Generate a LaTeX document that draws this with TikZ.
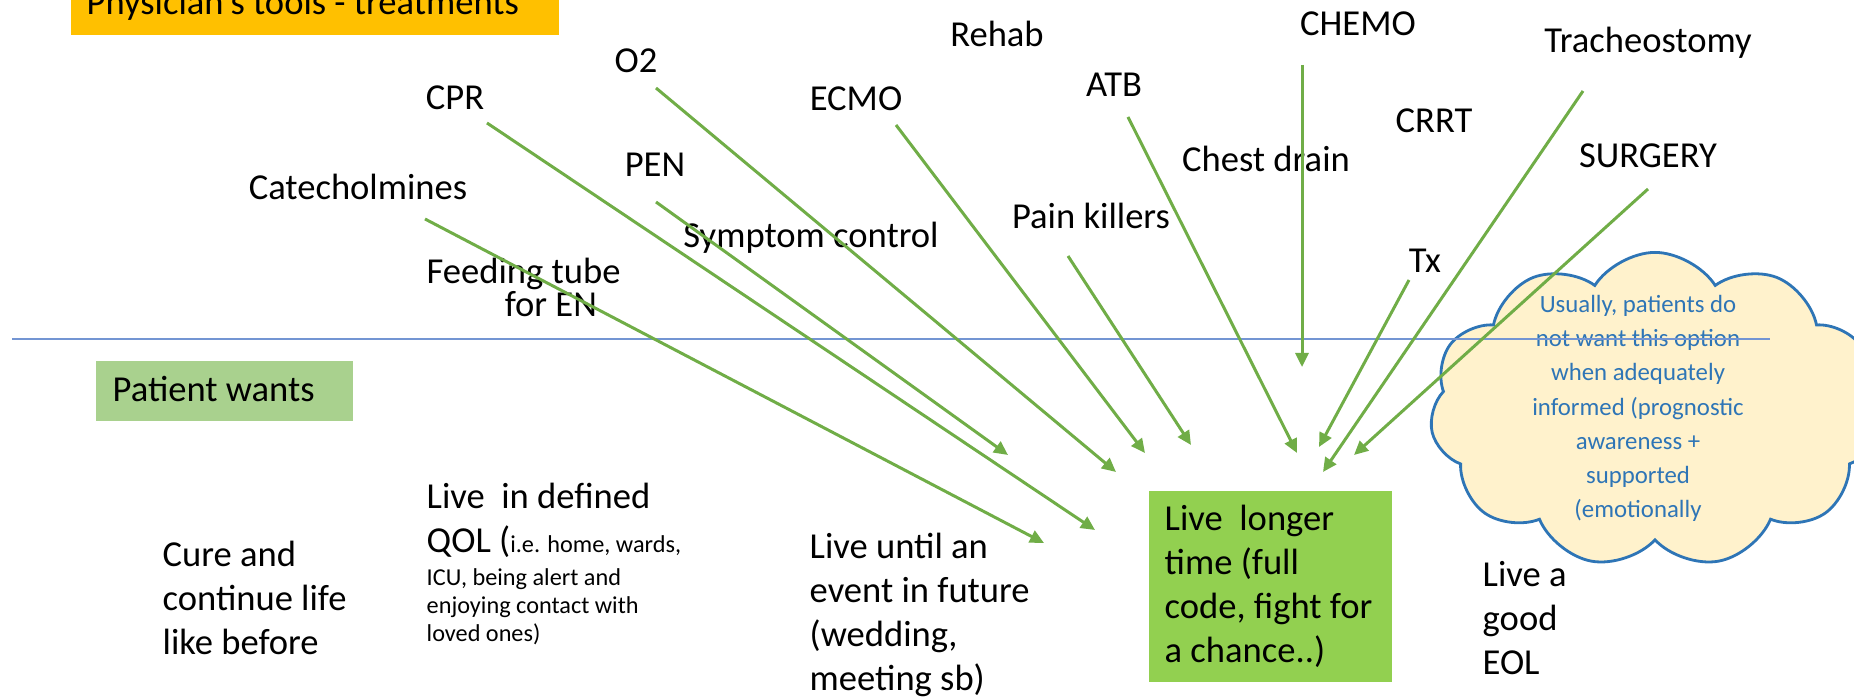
\documentclass[tikz,border=0pt]{standalone}
\usepackage{fontspec}
\setmainfont{Carlito}
\usetikzlibrary{arrows.meta,shapes.symbols,positioning}
\definecolor{colorTitle}{HTML}{FFC000}
\definecolor{colorWants}{HTML}{A9D18E}
\definecolor{colorLonger}{HTML}{92D050}
\definecolor{colorArrow}{HTML}{70AD47}
\definecolor{colorAxis}{HTML}{4472C4}
\definecolor{colorCloud}{HTML}{FFF2CC}
\definecolor{colorCloudLine}{HTML}{2E75B6}
\newcommand{\txtbig}{\fontsize{10.4}{12.6}\selectfont}
\newcommand{\txttight}{\fontsize{10.4}{9.6}\selectfont}
\newcommand{\txtsmall}{\fontsize{6.9}{8.1}\selectfont}
\newcommand{\txtcloud}{\fontsize{7.05}{9.75}\selectfont}

\begin{document}
\begin{tikzpicture}[x=0.01cm,y=-0.01cm,
    lbl/.style={inner sep=0pt,anchor=base,font=\txtbig},
    wish/.style={inner sep=0pt,anchor=base west,align=left,font=\txtbig},
    treat/.style={draw=colorArrow,line width=0.85pt,-{Triangle[length=0.14cm,width=0.13cm]}}]
\useasboundingbox (0,0) rectangle (1854,698);

% headers
\fill[colorTitle] (71,-10) rectangle (559,35);
\node[inner sep=0pt,anchor=base west,font=\txtbig] (title) at (86,15) {Physician’s tools - treatments};
\fill[colorWants] (96,361) rectangle (353,421);
\node[inner sep=0pt,anchor=base west,font=\txtbig] (wants) at (112,402) {Patient wants};

% treatments
\node[lbl] (cpr) at (455,110) {CPR};
\node[lbl] (otwo) at (636,73) {O2};
\node[lbl] (rehab) at (997,47) {Rehab};
\node[lbl] (ecmo) at (856,111) {ECMO};
\node[lbl] (atb) at (1114,97) {ATB};
\node[lbl] (chemo) at (1358,36) {CHEMO};
\node[lbl] (trach) at (1648,53) {Tracheostomy};
\node[lbl] (crrt) at (1434,133) {CRRT};
\node[lbl] (chest) at (1266,172) {Chest drain};
\node[lbl] (surgery) at (1648,168) {SURGERY};
\node[lbl] (pen) at (655,177) {PEN};
\node[lbl] (catech) at (358,200) {Catecholmines};
\node[lbl] (symptom) at (811,248) {Symptom control};
\node[lbl] (pain) at (1091,229) {Pain killers};
\node[lbl] (tx) at (1425,273) {Tx};
\node[wish,font=\txttight] (feeding) at (426,317) {Feeding tube\\\hspace*{0.78cm}for EN};

% what the patient wants (anchored on the last line)
\node[wish] (cure) at (162,655) {Cure and\\continue life\\like before};
\node[wish] (qol) at (426,553) {Live\ \ in defined\\QOL ({\txtsmall i.e. home, wards,}};
\node[wish,font=\txtsmall] (qoldet) at (426,642) {ICU, being alert and\\enjoying contact with\\loved ones)};
\node[wish] (event) at (809,691) {Live until an\\event in future\\(wedding,\\meeting sb)};
\fill[colorLonger] (1149,491) rectangle (1392,682);
\node[wish] (longer) at (1164,663) {Live\ \ longer\\time (full\\code, fight for\\a chance..)};
\node[wish] (eol) at (1482,675) {Live a\\good\\EOL};

% cloud
\node[cloud,cloud puffs=11,cloud puff arc=115,draw=colorCloudLine,fill=colorCloud,line width=0.8pt,
      minimum width=4.5cm,minimum height=3.15cm] (cloud) at (1655,410) {};
\node[inner sep=0pt,anchor=base,align=center,font=\txtcloud,text=colorCloudLine] (cloudtxt) at (1638,518)
  {Usually, patients do\\not want this option\\when adequately\\informed (prognostic\\awareness +\\supported\\(emotionally};

% divider
\coordinate (axisL) at (12,339);
\coordinate (axisR) at (1770,339);
\draw[colorAxis!75,line width=0.65pt] (axisL) -- (axisR);

% arrows
\coordinate (cpr-s) at (487,123);   \coordinate (cpr-e) at (1095,530);
\coordinate (otwo-s) at (656,88);   \coordinate (otwo-e) at (1116,472);
\coordinate (ecmo-s) at (896,125);  \coordinate (ecmo-e) at (1145,453);
\coordinate (pen-s) at (656,202);   \coordinate (pen-e) at (1008,455);
\coordinate (catech-s) at (425,219); \coordinate (catech-e) at (1044,543);
\coordinate (pain-s) at (1068,256); \coordinate (pain-e) at (1191,445);
\coordinate (atb-s) at (1128,117);  \coordinate (atb-e) at (1297,453);
\coordinate (chemo-s) at (1302,65); \coordinate (chemo-e) at (1302,367);
\coordinate (tx-s) at (1409,280);   \coordinate (tx-e) at (1319,447);
\coordinate (trach-s) at (1583,91); \coordinate (trach-e) at (1323,472);
\coordinate (surgery-s) at (1648,189); \coordinate (surgery-e) at (1354,455);
\draw[treat] (cpr-s) -- (cpr-e);
\draw[treat] (otwo-s) -- (otwo-e);
\draw[treat] (ecmo-s) -- (ecmo-e);
\draw[treat] (pen-s) -- (pen-e);
\draw[treat] (catech-s) -- (catech-e);
\draw[treat] (pain-s) -- (pain-e);
\draw[treat] (atb-s) -- (atb-e);
\draw[treat] (chemo-s) -- (chemo-e);
\draw[treat] (tx-s) -- (tx-e);
\draw[treat] (trach-s) -- (trach-e);
\draw[treat] (surgery-s) -- (surgery-e);
\end{tikzpicture}
\end{document}
